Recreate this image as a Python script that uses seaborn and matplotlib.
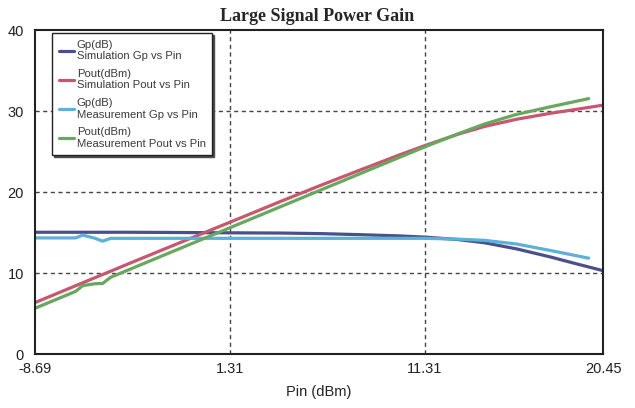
import matplotlib
matplotlib.use("Agg")
import matplotlib.pyplot as plt
import seaborn as sns
import pandas as pd

# --- data ---
sim_pin = [-8.69, -6.0, -4.0, -2.0, 0.0, 1.31, 4.0, 6.0, 8.0, 10.0, 11.31, 13.0, 14.37, 16.0, 17.74, 19.0, 20.45]
sim_gp = [15.05, 15.05, 15.05, 15.03, 15.0, 14.98, 14.95, 14.88, 14.75, 14.6, 14.45, 14.15, 13.75, 13.0, 12.0, 11.2, 10.3]
sim_pout = [6.36, 9.05, 11.05, 13.03, 15.0, 16.29, 18.95, 20.88, 22.75, 24.6, 25.76, 27.15, 28.12, 29.0, 29.74, 30.2, 30.75]

meas_pin = [-8.69, -7.5, -6.6, -6.24, -5.6, -5.22, -4.8, -3.0, 0.0, 3.0, 6.0, 9.0, 11.31, 13.0, 14.37, 16.0, 17.74, 19.7]
meas_gp = [14.35, 14.35, 14.35, 14.7, 14.3, 13.95, 14.3, 14.3, 14.3, 14.3, 14.3, 14.3, 14.3, 14.2, 14.05, 13.6, 12.8, 11.85]
meas_pout = [5.66, 6.85, 7.75, 8.46, 8.7, 8.73, 9.5, 11.3, 14.3, 17.3, 20.3, 23.3, 25.6, 27.2, 28.42, 29.6, 30.54, 31.55]

x_ticks = [-8.69, 1.31, 11.31, 20.45]
y_ticks = [0, 10, 20, 30, 40]

series_names = ["Gp(dB)\nSimulation Gp vs Pin", "Pout(dBm)\nSimulation Pout vs Pin",
                "Gp(dB)\nMeasurement Gp vs Pin", "Pout(dBm)\nMeasurement Pout vs Pin"]
colors = ["#4b4f8a", "#c9566f", "#5cb0da", "#66a85c"]

sns.set_theme(style="white")
plt.rcParams['font.family'] = ['Liberation Sans', 'DejaVu Sans']

frames = []
for name, xs, ys in [(series_names[0], sim_pin, sim_gp), (series_names[1], sim_pin, sim_pout),
                     (series_names[2], meas_pin, meas_gp), (series_names[3], meas_pin, meas_pout)]:
    frames.append(pd.DataFrame({"Pin": xs, "val": ys, "series": name}))
df = pd.concat(frames, ignore_index=True)

fig = plt.figure(figsize=(6.35, 4.08), dpi=100)
ax = fig.add_axes([0.055, 0.132, 0.895, 0.794])

sns.lineplot(data=df, x="Pin", y="val", hue="series", hue_order=series_names,
             palette=colors, linewidth=2.3, ax=ax, sort=False, estimator=None)

ax.set_xlim(-8.69, 20.45)
ax.set_ylim(0, 40)
ax.set_xticks(x_ticks)
ax.set_xticklabels([f"{v:.2f}" for v in x_ticks])
ax.set_yticks(y_ticks)
ax.tick_params(axis='both', length=0, labelsize=10.5, colors="#222222", pad=6)
ax.tick_params(axis='y', pad=8)
for v in x_ticks[1:3]:
    ax.axvline(v, color="#444444", linestyle=(0, (3, 2.5)), linewidth=1.0, zorder=0)
for v in y_ticks[1:4]:
    ax.axhline(v, color="#444444", linestyle=(0, (3, 2.5)), linewidth=1.0, zorder=0)
for s in ax.spines.values():
    s.set_color("#222222")
    s.set_linewidth(1.5)
    s.set_visible(True)

ax.set_xlabel("Pin (dBm)", fontsize=10.5, color="#222222", labelpad=6)
ax.set_ylabel("")
fig.text(0.5, 0.96, "Large Signal Power Gain", ha="center", va="center",
         fontsize=13, fontweight="bold", family=["Liberation Serif", "DejaVu Serif"])

leg = ax.legend(loc="upper left", bbox_to_anchor=(0.03, 0.99), fontsize=8.1,
                handlelength=1.4, handletextpad=0.2, labelspacing=0.7,
                frameon=True, fancybox=False,
                shadow={'ox': 1.3, 'oy': -1.3, 'facecolor': '#444444', 'alpha': 1.0},
                borderpad=0.6, borderaxespad=0.0)
leg.get_frame().set_edgecolor("#222222")
leg.get_frame().set_linewidth(1.0)
for t in leg.get_texts():
    t.set_color("#3a3a3a")
    t.set_linespacing(1.15)

fig.savefig("out.png", dpi=100)
